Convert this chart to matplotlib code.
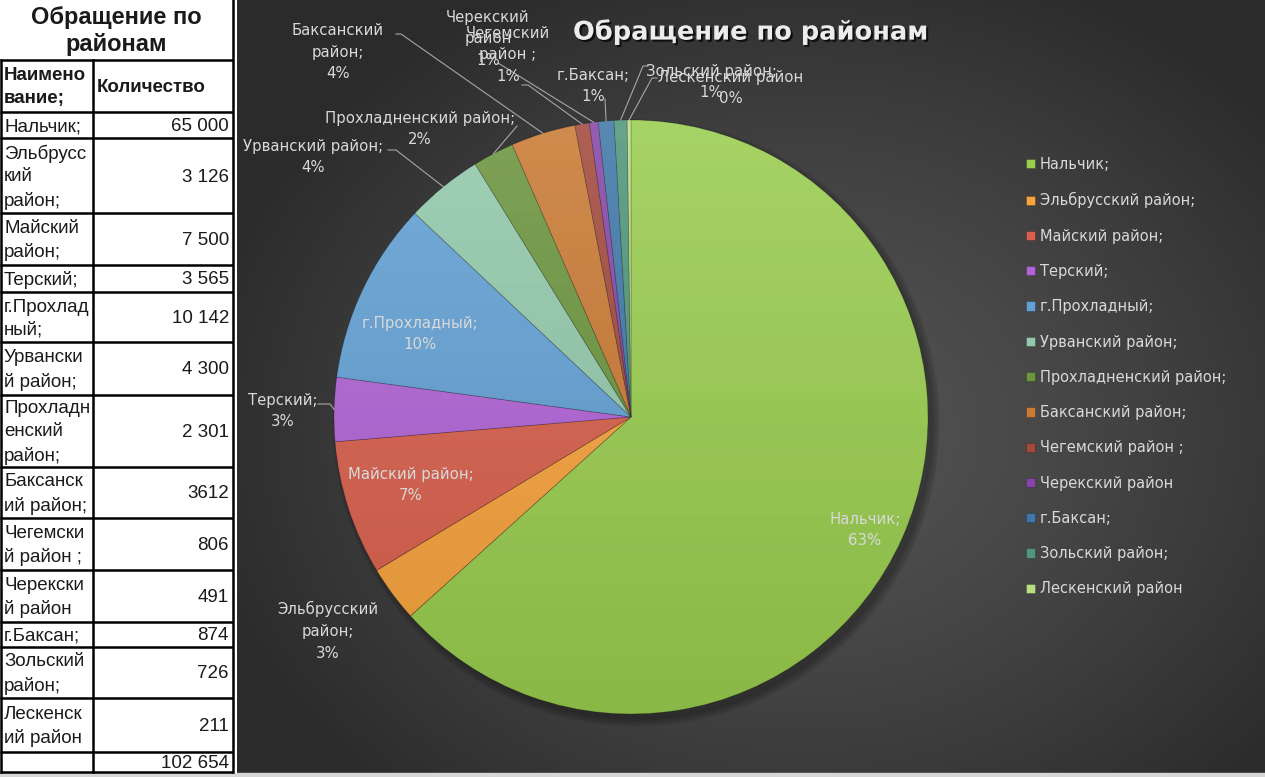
import numpy as np
import matplotlib.pyplot as plt
from matplotlib.patches import Circle, Rectangle
import matplotlib.patheffects as pe

# данные
districts = ["Нальчик;", "Эльбрусский район;", "Майский район;", "Терский;",
             "г.Прохладный;", "Урванский район;", "Прохладненский район;",
             "Баксанский район;", "Чегемский район ;", "Черекский район",
             "г.Баксан;", "Зольский район;", "Лескенский район"]
counts = [65000, 3126, 7500, 3565, 10142, 4300, 2301, 3612, 806, 491, 874, 726, 211]

# подписи так, как они переносятся на картинке
table_names = ["Нальчик;", "Эльбрусс\nкий\nрайон;", "Майский\nрайон;", "Терский;",
               "г.Прохлад\nный;", "Урвански\nй район;", "Прохладн\nенский\nрайон;",
               "Баксанск\nий район;", "Чегемски\nй район ;", "Черекски\nй район",
               "г.Баксан;", "Зольский\nрайон;", "Лескенск\nий район"]
table_values = ["65 000", "3 126", "7 500", "3 565", "10 142", "4 300", "2 301",
                "3612", "806", "491", "874", "726", "211"]
pie_names = ["Нальчик;", "Эльбрусский\nрайон;", "Майский район;", "Терский;",
             "г.Прохладный;", "Урванский район;", "Прохладненский район;",
             "Баксанский\nрайон;", "Чегемский\nрайон ;", "Черекский\nрайон",
             "г.Баксан;", "Зольский район;", "Лескенский район"]

colors = ["#9acd4f", "#f7a33e", "#d9604c", "#b163d6", "#62a0d4", "#92c9ab",
          "#6c953e", "#c97a34", "#a3493d", "#8646a8", "#3f78a8", "#4f967a", "#b9df85"]

# раскладка (пиксели)
W, H = 1265, 777
CX, CY, R = 631, 417, 297
label_px = [(865, 530), (328, 631), (411, 485), (283, 411), (420, 334), (313, 157),
            (420, 129), (338, 52), (508, 55), (488, 39), (593, 86), (711, 82), (731, 88)]
leader_px = [None, None, None, [(318, 404), (330, 404)], None, [(388, 150), (396, 150)],
             [(517, 126)], [(396, 34), (401, 34)], [(522, 85), (528, 85)], [(498, 63)],
             [(605, 99)], [(648, 66), (643, 66)], [(657, 78), (652, 78)]]
row_edges = [60, 112, 138, 213, 265, 292, 342, 395, 467, 518, 570, 622, 647, 698, 752, 772]

# проценты как в Excel (сумма = 100)
vals = np.array(counts, dtype=float)
raw = vals / vals.sum() * 100
pct = np.floor(raw).astype(int)
order = np.argsort(-(raw - pct))
pct[order[:100 - pct.sum()]] += 1

fig = plt.figure(figsize=(W / 100, H / 100), dpi=100)
fig.patch.set_facecolor("white")

# фон диаграммы
bg = fig.add_axes([237 / W, (H - 773) / H, (W - 237) / W, 773 / H])
yy, xx = np.mgrid[0:773, 237:W]
rr = np.sqrt(((xx - 800) / 620.0) ** 2 + ((yy - 430) / 500.0) ** 2)
t = np.clip(rr, 0, 1) ** 1.3
inner, outer = np.array([0x54, 0x54, 0x54]) / 255, np.array([0x2b, 0x2b, 0x2b]) / 255
img = inner[None, None, :] * (1 - t[..., None]) + outer[None, None, :] * t[..., None]
bg.imshow(img, aspect="auto", extent=(0, 1, 0, 1))
bg.axis("off")

# круговая диаграмма
ax = fig.add_axes([(CX - R) / W, (H - CY - R) / H, 2 * R / W, 2 * R / H])
for k in range(5):
    ax.add_patch(Circle((0.018, -0.02), 0.995 + 0.006 * k, color="black", alpha=0.06,
                        zorder=0, clip_on=False))
wedges, _ = ax.pie(counts, colors=colors, startangle=90, counterclock=False, radius=1,
                   wedgeprops=dict(edgecolor=(0, 0, 0, 0.25), linewidth=0.6))
g = np.linspace(1, 0, 256)[:, None]
shine = np.zeros((256, 1, 4))
shine[..., :3] = 1
shine[..., 3] = 0.13 * g
shade = np.zeros((256, 1, 4))
shade[..., 3] = 0.10 * (1 - g)
clip = Circle((0, 0), 1, transform=ax.transData)
for layer in (shine, shade):
    im = ax.imshow(layer, extent=(-1, 1, -1, 1), aspect="auto", zorder=2)
    im.set_clip_path(clip)
ax.set_xlim(-1, 1)
ax.set_ylim(-1, 1)
ax.axis("off")

# подписи, линии, таблица
ov = fig.add_axes([0, 0, 1, 1])
ov.set_xlim(0, W)
ov.set_ylim(H, 0)
ov.axis("off")
ov.patch.set_alpha(0)

ov.text(751, 32, "Обращение по районам", ha="center", va="center", fontsize=18.5,
        fontweight="bold", color="#ececec",
        path_effects=[pe.withSimplePatchShadow(offset=(1.5, -1.5), shadow_rgbFace="black", alpha=0.7)])

for w, name, p, (lx, ly), lead in zip(wedges, pie_names, pct, label_px, leader_px):
    ov.text(lx, ly, f"{name}\n{p}%", ha="center", va="center", fontsize=10.7,
            color="#d9d9d9", linespacing=1.55)
    if lead:
        mid = np.deg2rad((w.theta1 + w.theta2) / 2)
        pts = lead + [(CX + R * np.cos(mid), CY - R * np.sin(mid))]
        ov.plot([q[0] for q in pts], [q[1] for q in pts], color="#a6a6a6", lw=0.8)

fig.legend(wedges, districts, loc="upper left", bbox_to_anchor=(1026 / W, 1 - 157 / H),
           frameon=False, fontsize=10.5, labelcolor="#d9d9d9", handlelength=0.6,
           handleheight=0.6, handletextpad=0.35, labelspacing=1.39, borderpad=0,
           borderaxespad=0)

# таблица слева
tfont = "Liberation Sans"
ov.text(116, 31, "Обращение по\nрайонам", ha="center", va="center", fontsize=17,
        fontweight="bold", family=tfont, color="#1a1a1a", linespacing=1.2)
ov.text(4, 87, "Наимено\nвание;", ha="left", va="center", fontsize=13.5,
        fontweight="bold", family=tfont, color="#1a1a1a", linespacing=1.45)
ov.text(97, 87, "Количество", ha="left", va="center", fontsize=13.5,
        fontweight="bold", family=tfont, color="#1a1a1a")
names_all = table_names + [""]
values_all = table_values + [f"{sum(counts):,}".replace(",", " ")]
for i, (nm, vt) in enumerate(zip(names_all, values_all)):
    y0, y1 = row_edges[i + 1], row_edges[i + 2]
    yc = (y0 + y1) / 2 + 1.5
    ov.text(4, yc, nm, ha="left", va="center", fontsize=13.5, family=tfont,
            color="#1a1a1a", linespacing=1.45)
    ov.text(229, yc, vt, ha="right", va="center", fontsize=13.5, family=tfont,
            color="#1a1a1a")
for y in row_edges:
    ov.plot([0, 233], [y, y], color="black", lw=1.8, solid_capstyle="butt")
ov.plot([1, 1], [60, 772], color="black", lw=1.8)
ov.plot([93, 93], [60, 772], color="black", lw=1.8)
ov.plot([233, 233], [0, 772], color="black", lw=1.8)
ov.add_patch(Rectangle((0, 773), W, 4, color="#d6d6d6"))

plt.savefig("out.png", dpi=100)
